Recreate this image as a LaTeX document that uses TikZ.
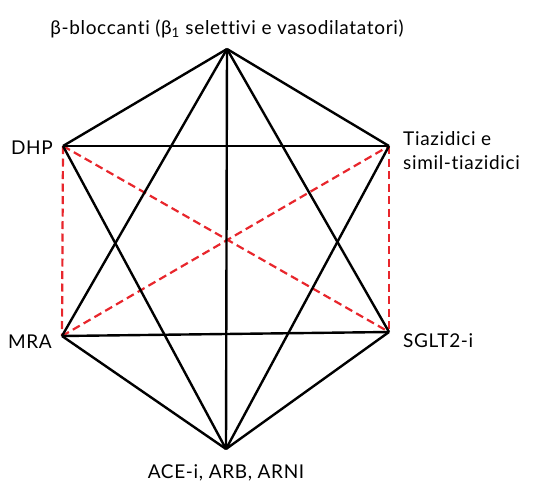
\documentclass[tikz,border=0pt]{standalone}
\usepackage{fontspec}
\setmainfont{Lato}[LetterSpace=3.5, Ligatures=NoCommon]
\usepackage{xcolor}
\usepackage{tikz}
\usetikzlibrary{positioning}

\definecolor{dashred}{RGB}{232,38,44}

\begin{document}
\begin{tikzpicture}[
  x=1pt, y=-1pt,
  drug/.style={inner sep=0pt, align=left, font=\fontsize{19}{24}\selectfont},
  link/.style={line width=2.4pt, black},
  weak/.style={line width=2.2pt, dashpattern, dashred},
  dashpattern/.style={dash pattern=on 8pt off 4.5pt}
]
\useasboundingbox (0,0) rectangle (533,485);

\coordinate (beta) at (227,49);
\coordinate (dhp) at (63,146);
\coordinate (tiaz) at (389,146);
\coordinate (mra) at (62,336);
\coordinate (sglt) at (389,332);
\coordinate (ace) at (226,449);

\node[drug, above=11pt of beta] (betalabel) {β-bloccanti (β\textsubscript{1} selettivi e vasodilatatori)};
\node[drug, left=10pt of dhp, yshift=-2pt] (dhplabel) {DHP};
\node[drug, right=14pt of tiaz, yshift=-5pt] (tiazlabel) {Tiazidici e\\simil-tiazidici};
\node[drug, left=10pt of mra, yshift=-6pt] (mralabel) {MRA};
\node[drug, right=14pt of sglt, yshift=-9pt] (sgltlabel) {SGLT2-i};
\node[drug, below=15pt of ace] (acelabel) {ACE-i, ARB, ARNI};

\draw[weak] (dhp) -- (mra);
\draw[weak] (tiaz) -- (sglt);
\draw[weak] (dhp) -- (sglt);
\draw[weak] (mra) -- (tiaz);

\draw[link] (beta) -- (dhp);
\draw[link] (beta) -- (tiaz);
\draw[link] (beta) -- (mra);
\draw[link] (beta) -- (sglt);
\draw[link] (beta) -- (ace);
\draw[link] (dhp) -- (tiaz);
\draw[link] (dhp) -- (ace);
\draw[link] (tiaz) -- (ace);
\draw[link] (mra) -- (sglt);
\draw[link] (mra) -- (ace);
\draw[link] (sglt) -- (ace);
\end{tikzpicture}
\end{document}
